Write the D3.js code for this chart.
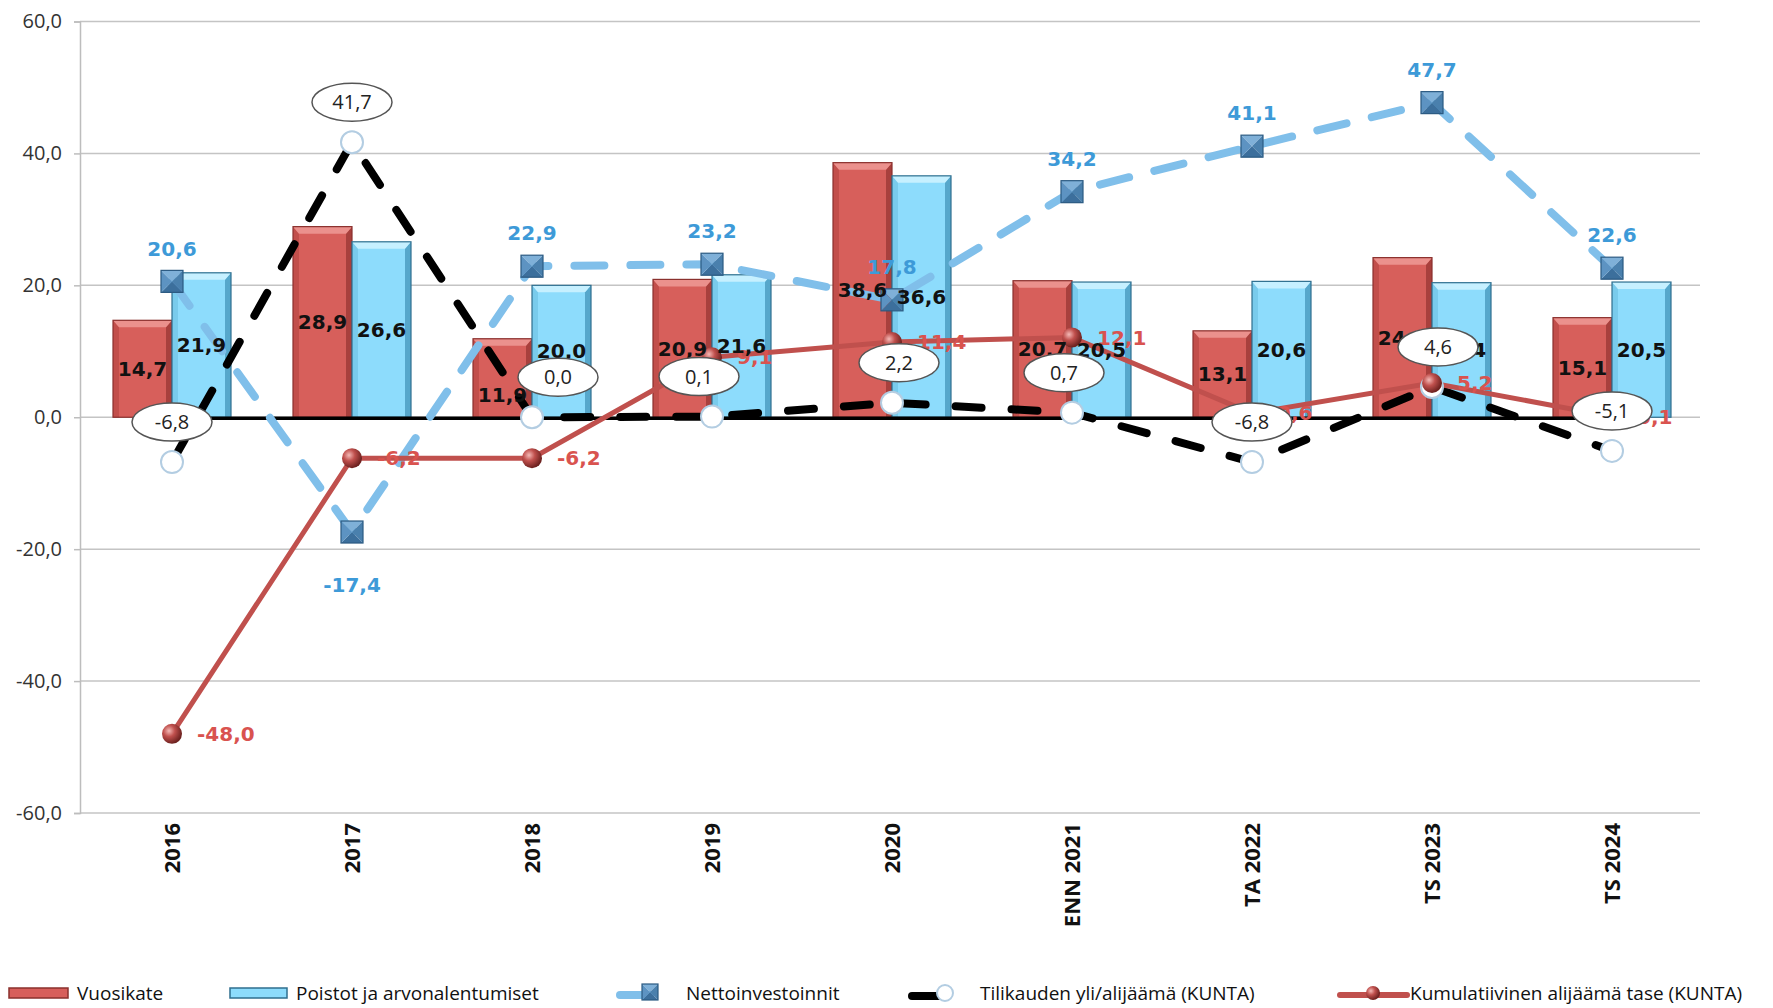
<!DOCTYPE html>
<html>
<head>
<meta charset="utf-8">
<script src="https://cdn.jsdelivr.net/npm/d3@7"></script>
<style>
  body { margin: 0; background: #fff; }
  svg { display: block; }
</style>
</head>
<body>
<div id="chart"></div>
<script>
// Datos
const categories = ["2016", "2017", "2018", "2019", "2020", "ENN 2021", "TA 2022", "TS 2023", "TS 2024"];
const vuosikate = [14.7, 28.9, 11.9, 20.9, 38.6, 20.7, 13.1, 24.2, 15.1];
const poistot = [21.9, 26.6, 20.0, 21.6, 36.6, 20.5, 20.6, 20.4, 20.5];
const nettoinvestoinnit = [20.6, -17.4, 22.9, 23.2, 17.8, 34.2, 41.1, 47.7, 22.6];
const tilikauden = [-6.8, 41.7, 0.0, 0.1, 2.2, 0.7, -6.8, 4.6, -5.1];
const kumulatiivinen = [-48.0, -6.2, -6.2, 9.1, 11.4, 12.1, 0.6, 5.2, 0.1];
const yTicks = [-60, -40, -20, 0, 20, 40, 60];
const legendLabels = ["Vuosikate", "Poistot ja arvonalentumiset", "Nettoinvestoinnit",
  "Tilikauden yli/alijäämä (KUNTA)", "Kumulatiivinen alijäämä tase (KUNTA)"];

// Ajustes manuales de etiquetas (px), como en el original
const ellipseShiftX = [0, 0, 26, -13, 7, -8, 0, 6, 0];
const redLabelShiftY = [0, 0, 17, 0, 0, 0, 0, 0, 0];

const W = 1773, H = 1008;
const plotLeft = 80, plotRight = 1700;

const fi = d3.formatLocale({ decimal: ",", thousands: " ", grouping: [3], currency: ["", "€"], minus: "-" });
const fmt = fi.format(".1f");

const svg = d3.select("#chart").append("svg")
  .attr("width", W).attr("height", H);

const defs = svg.append("defs");
const sphere = defs.append("radialGradient").attr("id", "sphere")
  .attr("cx", "35%").attr("cy", "35%").attr("r", "65%");
sphere.append("stop").attr("offset", "0%").attr("stop-color", "#f4b9b6");
sphere.append("stop").attr("offset", "45%").attr("stop-color", "#c0504d");
sphere.append("stop").attr("offset", "100%").attr("stop-color", "#6e2220");

// Escalas
const x = d3.scaleBand().domain(categories).range([82, 1702]);
const y = d3.scaleLinear().domain([-60, 60]).range([813, 21.5]);
const cx = c => x(c) + x.bandwidth() / 2;
const barW = 59;

// Rejilla
svg.append("g").selectAll("line").data(yTicks).enter().append("line")
  .attr("x1", plotLeft).attr("x2", plotRight)
  .attr("y1", d => y(d)).attr("y2", d => y(d))
  .style("stroke", "#c4c4c4").style("stroke-width", 1.5);

// Eje Y
const yAxis = svg.append("g")
  .attr("transform", `translate(${plotLeft},0)`)
  .call(d3.axisLeft(y).tickValues(yTicks).tickSize(6).tickPadding(12).tickFormat(fmt));
yAxis.select(".domain").style("stroke", "#bdbdbd").style("stroke-width", 1.5);
yAxis.selectAll(".tick line").style("stroke", "#bdbdbd").style("stroke-width", 1.5);
yAxis.selectAll("text")
  .style("font-family", "'Open Sans', sans-serif")
  .style("font-size", "20px").style("fill", "#333");

// Etiquetas eje X
svg.append("g").selectAll("text").data(categories).enter().append("text")
  .attr("transform", d => `translate(${cx(d)},823) rotate(-90)`)
  .attr("text-anchor", "end").attr("dy", "0.36em")
  .style("font-family", "'Open Sans', sans-serif")
  .style("font-size", "22px").style("font-weight", "bold").style("fill", "#111")
  .text(d => d);

// Barras con bisel
function drawBars(values, offset, col) {
  const g = svg.append("g");
  values.forEach((v, i) => {
    const x0 = cx(categories[i]) + offset;
    const top = y(v), bot = y(0), b = 6;
    const bg = g.append("g");
    bg.append("rect").attr("x", x0).attr("y", top).attr("width", barW).attr("height", bot - top)
      .style("fill", col.main);
    bg.append("polygon").attr("points", [[x0, top], [x0 + b, top + b + 1], [x0 + b, bot], [x0, bot]].join(" "))
      .style("fill", col.left);
    bg.append("polygon").attr("points", [[x0 + barW, top], [x0 + barW - b, top + b + 1], [x0 + barW - b, bot], [x0 + barW, bot]].join(" "))
      .style("fill", col.right);
    bg.append("polygon").attr("points", [[x0, top], [x0 + barW, top], [x0 + barW - b, top + b + 1], [x0 + b, top + b + 1]].join(" "))
      .style("fill", col.top);
    bg.append("rect").attr("x", x0).attr("y", top).attr("width", barW).attr("height", bot - top)
      .style("fill", "none").style("stroke", col.stroke).style("stroke-width", 1.2);
  });
}
const redCol = { main: "#d75f5b", left: "#c24f4b", right: "#a8403d", top: "#eb918d", stroke: "#8a302d" };
const blueCol = { main: "#8ddcfc", left: "#79cbec", right: "#56a7cb", top: "#c6f0ff", stroke: "#2f6f8f" };
drawBars(vuosikate, -barW, redCol);
drawBars(poistot, 0, blueCol);

// Línea cero negra
svg.append("line")
  .attr("x1", cx(categories[0])).attr("x2", cx(categories[categories.length - 1]))
  .attr("y1", y(0) + 1).attr("y2", y(0) + 1)
  .style("stroke", "#000").style("stroke-width", 3.5);

const lineGen = arr => d3.line().x((d, i) => cx(categories[i])).y(d => y(d))(arr);

// Nettoinvestoinnit
svg.append("path").attr("d", lineGen(nettoinvestoinnit))
  .style("fill", "none").style("stroke", "#80bfea").style("stroke-width", 8)
  .style("stroke-linecap", "round").style("stroke-dasharray", "30,26");

// Tilikauden yli/alijäämä
svg.append("path").attr("d", lineGen(tilikauden))
  .style("fill", "none").style("stroke", "#000").style("stroke-width", 8)
  .style("stroke-linecap", "round").style("stroke-dasharray", "26,30");

// Kumulatiivinen
svg.append("path").attr("d", lineGen(kumulatiivinen))
  .style("fill", "none").style("stroke", "#c0504d").style("stroke-width", 5);

// Marcadores cuadrados
function squareMarker(g, px, py, s) {
  const h = s / 2;
  g.append("polygon").attr("points", [[px - h, py - h], [px + h, py - h], [px, py]].join(" ")).style("fill", "#7fb0d8");
  g.append("polygon").attr("points", [[px + h, py - h], [px + h, py + h], [px, py]].join(" ")).style("fill", "#4a80ad");
  g.append("polygon").attr("points", [[px - h, py + h], [px + h, py + h], [px, py]].join(" ")).style("fill", "#3c6f9c");
  g.append("polygon").attr("points", [[px - h, py - h], [px - h, py + h], [px, py]].join(" ")).style("fill", "#5d93c2");
  g.append("rect").attr("x", px - h).attr("y", py - h).attr("width", s).attr("height", s)
    .style("fill", "none").style("stroke", "#2b5a82").style("stroke-width", 1.2);
}
const sqG = svg.append("g");
nettoinvestoinnit.forEach((v, i) => squareMarker(sqG, cx(categories[i]), y(v), 22));

svg.append("g").selectAll("circle").data(tilikauden).enter().append("circle")
  .attr("cx", (d, i) => cx(categories[i])).attr("cy", d => y(d)).attr("r", 11)
  .style("fill", "#fff").style("stroke", "#b3cde2").style("stroke-width", 2);

svg.append("g").selectAll("circle").data(kumulatiivinen).enter().append("circle")
  .attr("cx", (d, i) => cx(categories[i])).attr("cy", d => y(d)).attr("r", 10)
  .style("fill", "url(#sphere)");

// Etiquetas kumulatiivinen
svg.append("g").selectAll("text").data(kumulatiivinen).enter().append("text")
  .attr("x", (d, i) => cx(categories[i]) + 25).attr("y", d => y(d)).attr("dy", "0.36em")
  .style("font-family", "'DejaVu Sans', sans-serif").style("font-size", "20px")
  .style("font-weight", "bold").style("fill", "#d9534f")
  .text(d => fmt(d));

// Etiquetas barras
const barLabelStyle = sel => sel
  .attr("text-anchor", "middle").attr("dy", "0.36em")
  .style("font-family", "'DejaVu Sans', sans-serif").style("font-size", "20px")
  .style("font-weight", "bold").style("fill", "#111");
svg.append("g").selectAll("text").data(vuosikate).enter().append("text")
  .attr("x", (d, i) => cx(categories[i]) - barW / 2).attr("y", (d, i) => y(d / 2) + redLabelShiftY[i])
  .call(barLabelStyle).text(d => fmt(d));
svg.append("g").selectAll("text").data(poistot).enter().append("text")
  .attr("x", (d, i) => cx(categories[i]) + barW / 2).attr("y", d => y(d / 2))
  .call(barLabelStyle).text(d => fmt(d));

// Etiquetas nettoinvestoinnit
svg.append("g").selectAll("text").data(nettoinvestoinnit).enter().append("text")
  .attr("x", (d, i) => cx(categories[i])).attr("y", d => y(d) + (d < 0 ? 53 : -33))
  .attr("text-anchor", "middle").attr("dy", "0.36em")
  .style("font-family", "'DejaVu Sans', sans-serif").style("font-size", "20px")
  .style("font-weight", "bold").style("fill", "#3d9ad8")
  .text(d => fmt(d));

// Etiquetas tilikauden (elipses)
const ell = svg.append("g").selectAll("g").data(tilikauden).enter().append("g")
  .attr("transform", (d, i) => `translate(${cx(categories[i]) + ellipseShiftX[i]},${y(d) - 40})`);
ell.append("ellipse").attr("rx", 40).attr("ry", 19)
  .style("fill", "#fff").style("stroke", "#555").style("stroke-width", 1.5);
ell.append("text").attr("text-anchor", "middle").attr("dy", "0.36em")
  .style("font-family", "'Open Sans', sans-serif").style("font-size", "20px").style("fill", "#222")
  .text(d => fmt(d));

// Leyenda
const ly = 993;
const leg = svg.append("g");
const legTxt = (tx, t) => leg.append("text").attr("x", tx).attr("y", ly).attr("dy", "0.36em")
  .style("font-family", "'Open Sans', sans-serif").style("font-size", "19px").style("fill", "#111").text(t);

leg.append("rect").attr("x", 9).attr("y", ly - 5).attr("width", 59).attr("height", 10)
  .style("fill", "#d75f5b").style("stroke", "#8a302d").style("stroke-width", 1.5);
legTxt(77, legendLabels[0]);
leg.append("rect").attr("x", 230).attr("y", ly - 5).attr("width", 57).attr("height", 10)
  .style("fill", "#8ddcfc").style("stroke", "#2f6f8f").style("stroke-width", 1.5);
legTxt(296, legendLabels[1]);
leg.append("line").attr("x1", 620).attr("x2", 650).attr("y1", ly + 2).attr("y2", ly + 2)
  .style("stroke", "#80bfea").style("stroke-width", 8).style("stroke-linecap", "round");
squareMarker(leg, 650, ly - 1, 16);
legTxt(686, legendLabels[2]);
leg.append("line").attr("x1", 912).attr("x2", 945).attr("y1", ly + 3).attr("y2", ly + 3)
  .style("stroke", "#000").style("stroke-width", 8).style("stroke-linecap", "round");
leg.append("circle").attr("cx", 945).attr("cy", ly).attr("r", 8)
  .style("fill", "#fff").style("stroke", "#b3cde2").style("stroke-width", 2);
legTxt(980, legendLabels[3]);
leg.append("line").attr("x1", 1340).attr("x2", 1407).attr("y1", ly + 2).attr("y2", ly + 2)
  .style("stroke", "#c0504d").style("stroke-width", 6).style("stroke-linecap", "round");
leg.append("circle").attr("cx", 1373).attr("cy", ly).attr("r", 7).style("fill", "url(#sphere)");
legTxt(1410, legendLabels[4]);
</script>
</body>
</html>
